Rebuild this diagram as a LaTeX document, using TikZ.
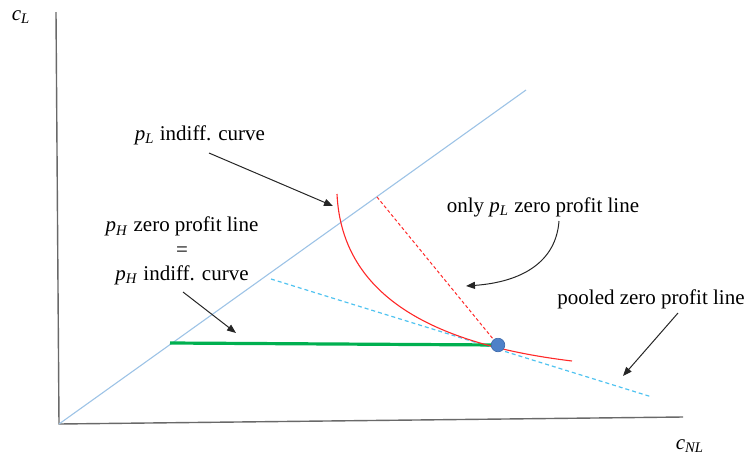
\documentclass[tikz,border=0pt]{standalone}
\usepackage{fontspec}
\setmainfont{Liberation Serif}
\usetikzlibrary{arrows.meta}
\definecolor{axisgray}{RGB}{105,105,105}
\definecolor{diagblue}{RGB}{157,195,230}
\definecolor{poolcyan}{RGB}{80,195,240}
\definecolor{curvered}{RGB}{255,40,40}
\definecolor{linegreen}{RGB}{0,176,80}
\definecolor{dotfill}{RGB}{79,129,200}
\definecolor{dotdraw}{RGB}{60,105,170}
\newcommand{\vsub}[2]{\textit{#1}\textsubscript{\textit{#2}}}
\begin{document}
\begin{tikzpicture}[x=0.5pt,y=-0.5pt,
  lbl/.style={font=\fontsize{10.5}{11}\selectfont, inner sep=0pt, align=center},
  axislbl/.style={font=\fontsize{10.5}{11}\selectfont, inner sep=0pt},
  axisline/.style={draw=axisgray, line width=0.7pt},
  pointer/.style={draw=black!85, line width=0.5pt, -{Triangle[length=4.5pt,width=3.5pt]}},
  dot/.style={circle, fill=dotfill, draw=dotdraw, line width=0.3pt, minimum size=6.8pt, inner sep=0pt}]
\useasboundingbox (0,0) rectangle (750,456);
% axes
\coordinate (yt) at (56,12);
\coordinate (O) at (59,424);
\coordinate (xr) at (683,417);
\draw[axisline] (yt) -- (O) -- (xr);
\node[axislbl] (cl) at (21,17) {\vsub{c}{L}};
\node[axislbl] (cnl) at (690,446) {\vsub{c}{NL}};
% 45 degree line
\coordinate (dtop) at (526,90);
\draw[draw=diagblue, line width=0.55pt] (O) -- (dtop);
% equilibrium point
\coordinate (E) at (498,345);
% pooled zero profit line
\coordinate (ps) at (271,279);
\coordinate (pe) at (652,397);
\draw[draw=poolcyan, line width=0.6pt, dash pattern=on 2pt off 1.5pt] (ps) -- (pe);
% only pL zero profit line
\coordinate (rs) at (377,197);
\draw[draw=curvered, line width=0.5pt, dash pattern=on 1.6pt off 1.2pt] (rs) -- (E);
% green line
\coordinate (gs) at (170,343);
\draw[draw=linegreen, line width=1.6pt] (gs) -- (E);
% pL indifference curve
\coordinate (ct) at (337,194);
\coordinate (ce) at (572,361);
\draw[draw=curvered, line width=0.55pt] (ct) .. controls (342,300) and (440,345) .. (ce);
% dot
\node[dot] (Ed) at (E) {};
% labels
\node[lbl] (lpl) at (200,135) {\vsub{p}{L} indiff. curve};
\node[lbl] (lph) at (182,251) {\vsub{p}{H} zero profit line\\[1.2pt]=\\[1.2pt]\vsub{p}{H} indiff. curve};
\node[lbl] (lonly) at (543,207) {only \vsub{p}{L} zero profit line};
\node[lbl] (lpool) at (651,299) {pooled zero profit line};
% pointers
\coordinate (a1s) at (209,153);
\coordinate (a1e) at (333,206);
\draw[pointer] (a1s) -- (a1e);
\coordinate (a2s) at (183,292);
\coordinate (a2e) at (236,333);
\draw[pointer] (a2s) -- (a2e);
\coordinate (a3s) at (559,221);
\coordinate (a3e) at (466,286);
\draw[pointer] (a3s) .. controls (556,262) and (522,282) .. (a3e);
\coordinate (a4s) at (678,313);
\coordinate (a4e) at (623,376);
\draw[pointer] (a4s) -- (a4e);
\end{tikzpicture}
\end{document}
